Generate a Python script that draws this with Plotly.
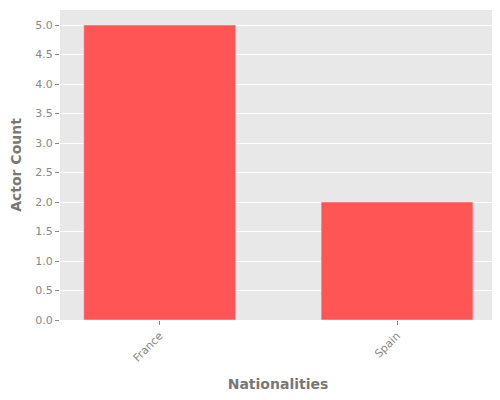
import plotly.graph_objects as go

nationalities = ["France", "Spain"]
actor_counts = [5, 2]

fig = go.Figure(go.Bar(x=nationalities, y=actor_counts, marker_color="#FF5555", width=0.64))
fig.update_layout(
    width=500, height=400,
    margin=dict(l=52, r=12, t=2, b=88, autoexpand=False),
    plot_bgcolor="#E8E8E8", paper_bgcolor="white",
    font=dict(family="DejaVu Sans", size=11, color="#888888"),
    showlegend=False,
)
fig.update_xaxes(title=dict(text="<b>Nationalities</b>", font=dict(size=14, color="#777777")),
                 tickangle=-45, range=[-0.42, 1.417], showgrid=False, ticks="outside",
                 ticklen=4, tickcolor="#888888")
fig.update_yaxes(title=dict(text="<b>Actor Count</b>", font=dict(size=14, color="#777777")),
                 range=[0, 5.255], dtick=0.5, tickformat=".1f", gridcolor="white",
                 zeroline=False, ticks="outside", ticklen=4, tickcolor="#888888")
fig.write_html("out.html")
